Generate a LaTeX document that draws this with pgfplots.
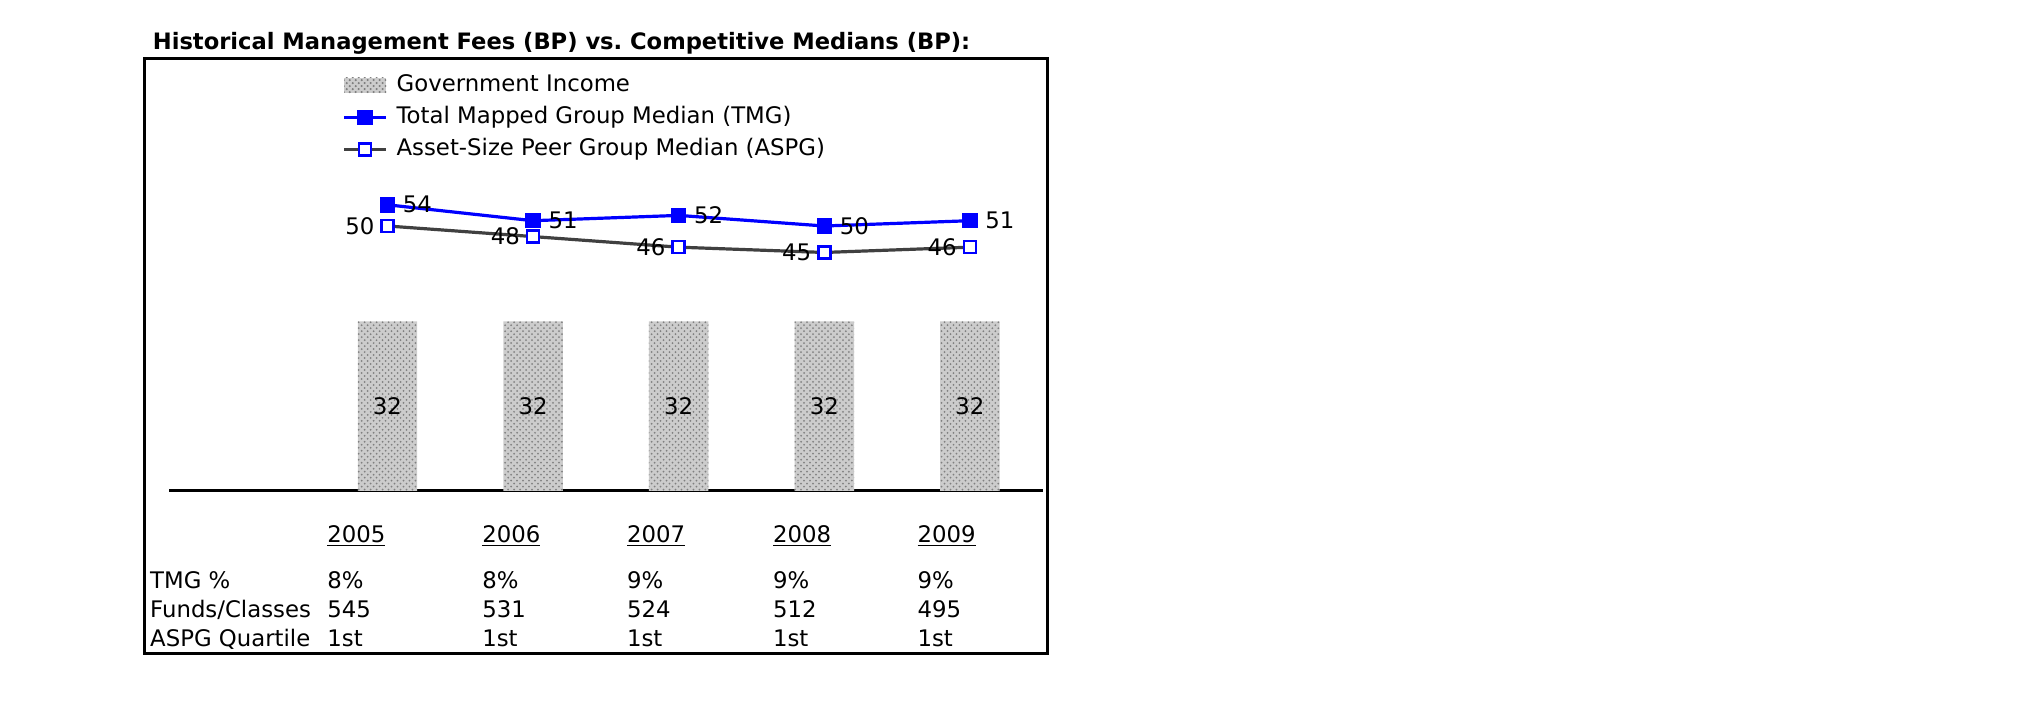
\documentclass[border=0pt]{standalone}
\usepackage{pgfplots}
\pgfplotsset{compat=1.18}
\usetikzlibrary{patterns}
\usepackage{fontspec}
\setmainfont{DejaVu Sans}
\newcommand{\bodyfont}{\fontsize{11.4bp}{14.5bp}\selectfont}
\definecolor{tmgblue}{RGB}{0,0,255}
\definecolor{aspggray}{RGB}{64,64,64}
\begin{document}
\begin{tikzpicture}
\begin{axis}[
  x=72.80bp, y=2.6474bp,
  xmin=-1.5, xmax=4.5, ymin=0, ymax=80,
  axis x line=bottom, axis y line=none,
  axis line style={line width=1.3bp, -, black},
  xtick={-0.213,0.851,1.845,2.847,3.840},
  xticklabels={
    {\underline{2005}\\[8.75bp]8\%\\545\\1st},
    {\underline{2006}\\[8.75bp]8\%\\531\\1st},
    {\underline{2007}\\[8.75bp]9\%\\524\\1st},
    {\underline{2008}\\[8.75bp]9\%\\512\\1st},
    {\underline{2009}\\[8.75bp]9\%\\495\\1st}},
  major tick length=0pt,
  xticklabel style={align=left, anchor=north, inner sep=0pt, yshift=-17.2bp, font=\bodyfont},
  clip=false,
  font=\bodyfont,
  /pgf/number format/assume math mode=true,
  legend style={at={(0.198,0.991)}, anchor=north west, draw=none, fill=none,
    font=\bodyfont, inner sep=0pt, row sep=2bp,
    nodes={inner sep=1.5bp, text height=8.5bp, text depth=2.5bp},
    /tikz/every odd column/.append style={column sep=3bp}},
  legend cell align=left,
  legend image code/.code={\draw[mark repeat=2,mark phase=2,#1] plot coordinates {(0bp,0bp) (10.5bp,0bp) (21bp,0bp)};},
]
\addplot[ybar, bar width=29.7bp, draw=none, fill=black!20,
  postaction={pattern=crosshatch dots, pattern color=black!50},
  nodes near coords,
  every node near coord/.append style={anchor=center, yshift=-42.35bp, font=\bodyfont, text=black},
  legend image code/.code={\fill[black!20, postaction={pattern=crosshatch dots, pattern color=black!50}] (0bp,-3.9bp) rectangle (21bp,3.9bp);}]
  coordinates {(0,32) (1,32) (2,32) (3,32) (4,32)};
\addlegendentry{Government Income}
\addplot[color=tmgblue, line width=1.6bp, mark=square*, mark size=3.6bp,
  mark options={solid, fill=tmgblue, line width=0.5bp},
  nodes near coords,
  every node near coord/.append style={anchor=west, inner sep=0pt, xshift=7.5bp, font=\bodyfont, text=black}]
  coordinates {(0,54) (1,51) (2,52) (3,50) (4,51)};
\addlegendentry{Total Mapped Group Median (TMG)}
\addplot[color=aspggray, line width=1.6bp, mark=square*, mark size=3bp,
  mark options={solid, draw=tmgblue, fill=white, line width=1.2bp},
  nodes near coords,
  every node near coord/.append style={anchor=east, inner sep=0pt, xshift=-6bp, font=\bodyfont, text=black}]
  coordinates {(0,50) (1,48) (2,46) (3,45) (4,46)};
\addlegendentry{Asset-Size Peer Group Median (ASPG)}
% row labels of the table below the chart
\node[anchor=base west, inner sep=0pt, font=\bodyfont] at (axis cs:-1.632,-18.41) {TMG \%};
\node[anchor=base west, inner sep=0pt, font=\bodyfont] at (axis cs:-1.632,-23.90) {Funds/Classes};
\node[anchor=base west, inner sep=0pt, font=\bodyfont] at (axis cs:-1.632,-29.39) {ASPG Quartile};
% title and frame
\node[anchor=west, inner sep=0pt, font=\fontsize{11.3bp}{13bp}\selectfont\bfseries] at (axis cs:-1.614,84.4) {Historical Management Fees (BP) vs.\ Competitive Medians (BP):};
\draw[line width=1.5bp] (axis cs:-1.668,81.7) rectangle (axis cs:4.534,-30.7);
\path (axis cs:-2.661,92.68) rectangle (axis cs:11.246,-42.68);
\end{axis}
\end{tikzpicture}
\end{document}
